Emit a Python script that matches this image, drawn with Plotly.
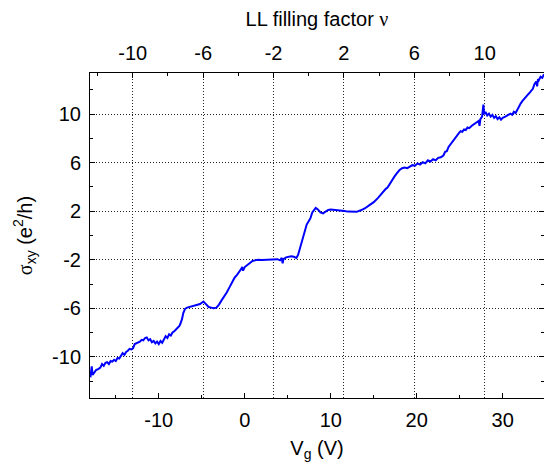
import plotly.graph_objects as go

# ---- data ----
vg = [-17.95, -17.85, -17.8, -17.7, -17.5, -17.3, -17.0, -16.8, -16.6, -16.4, -16.2, -16.0,
      -15.8, -15.6, -15.4, -15.2, -15.0, -14.8, -14.6, -14.4, -14.2, -14.0, -13.8, -13.6,
      -13.4, -13.2, -13.0, -12.8, -12.6, -12.4, -12.2, -12.0, -11.8, -11.6, -11.4, -11.2,
      -11.0, -10.8, -10.6, -10.4, -10.2, -10.0, -9.8, -9.6, -9.4, -9.2, -9.0, -8.8, -8.6,
      -8.4, -8.2, -8.0, -7.8, -7.6, -7.5, -7.3, -7.15, -6.95, -6.7, -6.4, -6.1, -5.8, -5.5,
      -5.2, -5.0, -4.8, -4.6, -4.4, -4.2, -3.9, -3.6, -3.3, -3.0, -2.7, -2.4, -2.1, -1.8,
      -1.5, -1.2, -0.9, -0.6, -0.4, -0.3, -0.2, 0.0, 0.3, 0.6, 0.9, 1.2, 1.5, 2.0, 2.5, 3.0,
      3.5, 3.8, 4.1, 4.3, 4.4, 4.5, 4.8, 5.1, 5.4, 5.7, 6.0, 6.2, 6.4, 6.6, 6.8, 7.0, 7.2,
      7.45, 7.65, 7.85, 8.05, 8.25, 8.5, 8.8, 9.1, 9.4, 9.7, 10.0, 10.4, 10.8, 11.2, 11.6,
      12.0, 12.5, 13.0, 13.5, 14.0, 14.5, 15.0, 15.5, 16.0, 16.2, 16.4, 16.6, 16.8, 17.1,
      17.4, 17.7, 18.0, 18.3, 18.6, 18.9, 19.2, 19.5, 19.8, 20.1, 20.4, 20.7, 21.0, 21.3,
      21.6, 21.9, 22.2, 22.5, 22.8, 23.1, 23.3, 23.5, 23.7, 23.9, 24.1, 24.3, 24.5, 24.7,
      24.9, 25.1, 25.3, 25.5, 25.7, 25.9, 26.1, 26.4, 26.7, 27.0, 27.2, 27.3, 27.4, 27.6,
      27.75, 27.85, 28.0, 28.2, 28.4, 28.6, 28.8, 29.0, 29.2, 29.4, 29.6, 29.8, 30.0, 30.3,
      30.6, 30.9, 31.1, 31.3, 31.5, 31.7, 31.9, 32.1, 32.3, 32.5, 32.7, 32.9, 33.1, 33.3,
      33.5, 33.7, 33.9, 34.0, 34.1, 34.2, 34.4, 34.6, 34.8]
sigma = [-11.7, -11.2, -10.8, -11.5, -11.3, -11.1, -11.0, -10.9, -10.6, -10.75, -10.5, -10.45,
         -10.6, -10.35, -10.4, -10.25, -10.35, -10.1, -10.15, -9.95, -9.7, -9.85, -9.6, -9.5,
         -9.35, -9.4, -9.3, -8.95, -8.9, -8.8, -8.75, -8.6, -8.65, -8.45, -8.4, -8.65,
         -8.55, -8.8, -8.7, -8.9, -8.75, -8.95, -8.7, -8.85, -8.6, -8.3, -8.45, -8.15, -8.25,
         -8.0, -7.9, -7.75, -7.65, -7.45, -7.3, -6.9, -6.4, -6.05, -5.95, -5.9, -5.85, -5.75, -5.7,
         -5.65, -5.55, -5.45, -5.6, -5.8, -5.9, -5.95, -6.0, -5.95, -5.7, -5.35, -5.05, -4.7, -4.3,
         -3.9, -3.5, -3.25, -3.0, -2.75, -2.6, -2.9, -2.6, -2.45, -2.25, -2.1, -2.05, -2.0, -2.02, -2.0, -2.02,
         -1.98, -1.95, -2.05, -1.85, -2.3, -1.95, -1.8, -1.75, -1.72, -1.75, -1.85, -1.6, -1.1, -0.55, -0.05, 0.45, 0.9,
         1.2, 1.45, 1.9, 2.15, 2.28, 2.15, 1.9, 1.82, 2.0, 2.1, 2.14, 2.12, 2.1, 2.05, 2.02,
         1.97, 1.93, 1.95, 2.08, 2.25, 2.5, 2.75, 3.1, 3.55, 3.7, 3.85, 3.95, 4.2, 4.5,
         4.85, 5.15, 5.4, 5.55, 5.6, 5.55, 5.7, 5.8, 5.75, 5.95, 5.85, 6.05, 5.95, 6.2,
         6.1, 6.3, 6.2, 6.4, 6.45, 6.6, 6.9, 6.95, 7.3, 7.5, 7.75, 7.9, 8.1, 8.35,
         8.45, 8.6, 8.55, 8.75, 8.7, 8.9, 8.85, 9.05, 9.2, 9.4, 9.45, 9.05, 9.6, 9.8,
         10.8, 10.0, 10.2, 9.9, 10.05, 9.8, 9.95, 9.7, 9.85, 9.6, 9.75, 9.55, 9.7, 9.8,
         9.9, 10.05, 9.95, 10.2, 10.1, 10.4, 10.6, 10.9, 11.1, 11.3, 11.5, 11.6, 11.75, 11.9,
         12.1, 12.5, 12.7, 12.3, 12.9, 12.8, 13.1, 13.0, 13.3]

x_ticks = [-10, 0, 10, 20, 30]
x_labels = ["-10", "0", "10", "20", "30"]
x_minor = [-15, -5, 5, 15, 25, 35]
nu_ticks = [-10, -6, -2, 2, 6, 10]
nu_labels = ["-10", "-6", "-2", "2", "6", "10"]
nu_minor = [-12, -8, -4, 0, 4, 8, 12]
y_ticks = [-10, -6, -2, 2, 6, 10]
y_labels = ["-10", "-6", "-2", "2", "6", "10"]
y_minor = [-12, -8, -4, 0, 4, 8, 12]

FONT = "Liberation Sans, Arial, sans-serif"
FS = 20
GRID = "1px,2px"

fig = go.Figure()
fig.add_trace(go.Scatter(x=vg, y=sigma, mode="lines",
                         line=dict(color="#0000ff", width=2), showlegend=False))
# empty trace that makes the top (filling-factor) axis exist
fig.add_trace(go.Scatter(x=nu_ticks, y=[None] * len(nu_ticks), xaxis="x2", yaxis="y",
                         mode="lines", hoverinfo="skip", showlegend=False))

axis_common = dict(showline=True, linecolor="black", linewidth=1, ticks="inside",
                   tickcolor="black", ticklen=5, tickwidth=1, zeroline=False,
                   automargin=False,
                   tickfont=dict(family=FONT, size=FS, color="black"))

fig.update_layout(
    width=544, height=464,
    margin=dict(l=90, r=0, t=73, b=66),
    paper_bgcolor="white", plot_bgcolor="white",
    font=dict(family=FONT, size=FS, color="black"),
    xaxis=dict(range=[-18, 34.8], tickvals=x_ticks, ticktext=x_labels, showgrid=False,
               minor=dict(tickvals=x_minor, ticks="inside", ticklen=3, tickcolor="black"),
               title=dict(text="V<sub>g</sub> (V)", font=dict(family=FONT, size=FS), standoff=10),
               ticklabelstandoff=4,
               **axis_common),
    xaxis2=dict(range=[-12.43, 13.37], overlaying="x", side="top", anchor="y",
                tickvals=nu_ticks, ticktext=nu_labels, showgrid=True, gridcolor="#222",
                griddash=GRID, gridwidth=1,
                minor=dict(tickvals=nu_minor, ticks="inside", ticklen=3, tickcolor="black"),
                title=dict(text="LL filling factor <span style='font-family:Liberation Serif'>ν</span>",
                           font=dict(family=FONT, size=FS), standoff=10),
                ticklabelstandoff=4,
                **axis_common),
    yaxis=dict(range=[-13.4, 13.4], tickvals=y_ticks, ticktext=y_labels, mirror="ticks",
               showgrid=True, gridcolor="#222", griddash=GRID, gridwidth=1,
               minor=dict(tickvals=y_minor, ticks="inside", ticklen=3, tickcolor="black"),
               title=dict(text="<span style='font-family:Liberation Serif'>σ</span><sub>xy</sub> (e<sup>2</sup>/h)",
                          font=dict(family=FONT, size=FS), standoff=14),
               ticklabelstandoff=4,
               **axis_common),
)

fig.write_html("out.html", config={"displayModeBar": False},
               post_script="document.body.style.margin='0';document.body.style.overflow='hidden';")
